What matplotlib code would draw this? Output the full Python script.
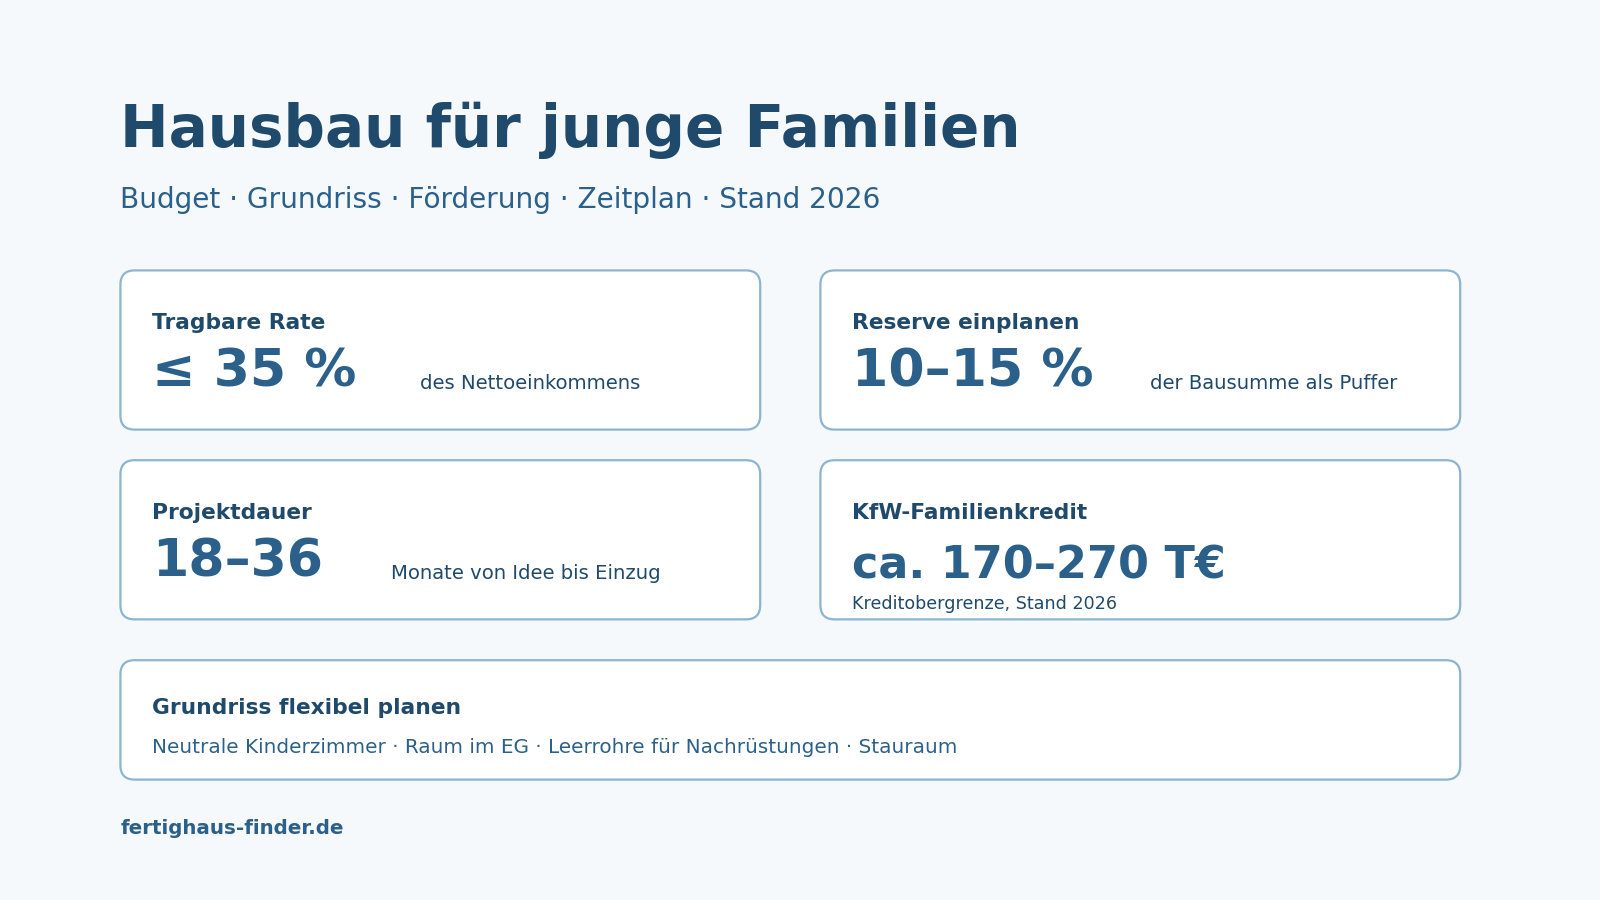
import matplotlib
matplotlib.use("Agg")
import matplotlib.pyplot as plt
from matplotlib.patches import FancyBboxPatch

title = "Hausbau für junge Familien"
subtitle = "Budget · Grundriss · Förderung · Zeitplan · Stand 2026"
card_titles = ["Tragbare Rate", "Reserve einplanen", "Projektdauer", "KfW-Familienkredit"]
card_values = ["≤ 35 %", "10–15 %", "18–36", "ca. 170–270 T€"]
card_notes = ["des Nettoeinkommens", "der Bausumme als Puffer", "Monate von Idee bis Einzug", "Kreditobergrenze, Stand 2026"]
note_x = [412, 1127, 383, None]
wide_title = "Grundriss flexibel planen"
wide_text = "Neutrale Kinderzimmer · Raum im EG · Leerrohre für Nachrüstungen · Stauraum"
footer = "fertighaus-finder.de"

BG = "#f5f9fc"; DARK = "#1f4a6b"; MID = "#2a6089"; BORDER = "#8cb5d1"

fig = plt.figure(figsize=(16, 9), dpi=100, facecolor=BG)
ax = fig.add_axes([0, 0, 1, 1])
ax.set_xlim(0, 1568); ax.set_ylim(882, 0); ax.axis("off")
ax.set_facecolor(BG)

ax.text(118, 128, title, fontsize=41.8, fontweight="bold", color=DARK, va="center")
ax.text(118, 196, subtitle, fontsize=20.2, color=MID, va="center")

def card(x, y, w, h):
    ax.add_patch(FancyBboxPatch((x, y), w, h, boxstyle="round,pad=0,rounding_size=14",
                                fc="white", ec=BORDER, lw=1.6))

pos = [(118, 265), (804, 265), (118, 451), (804, 451)]
for i, (x, y) in enumerate(pos):
    card(x, y, 627, 156)
    ax.text(x + 31, y + 52, card_titles[i], fontsize=15.7, fontweight="bold", color=DARK, va="center")
    if note_x[i] is not None:
        ax.text(x + 31, y + 100, card_values[i], fontsize=37.5, fontweight="bold", color=MID, va="center")
        ax.text(note_x[i], y + 111, card_notes[i], fontsize=14.1, color=DARK, va="center")
    else:
        ax.text(x + 31, y + 104, card_values[i], fontsize=32, fontweight="bold", color=MID, va="center")
        ax.text(x + 31, y + 141, card_notes[i], fontsize=12.6, color=DARK, va="center")

card(118, 647, 1313, 117)
ax.text(149, 694, wide_title, fontsize=15.7, fontweight="bold", color=DARK, va="center")
ax.text(149, 733, wide_text, fontsize=14.4, color=MID, va="center")
ax.text(118, 812, footer, fontsize=14.3, fontweight="bold", color=MID, va="center")

fig.savefig("out.png", dpi=100, facecolor=BG)
